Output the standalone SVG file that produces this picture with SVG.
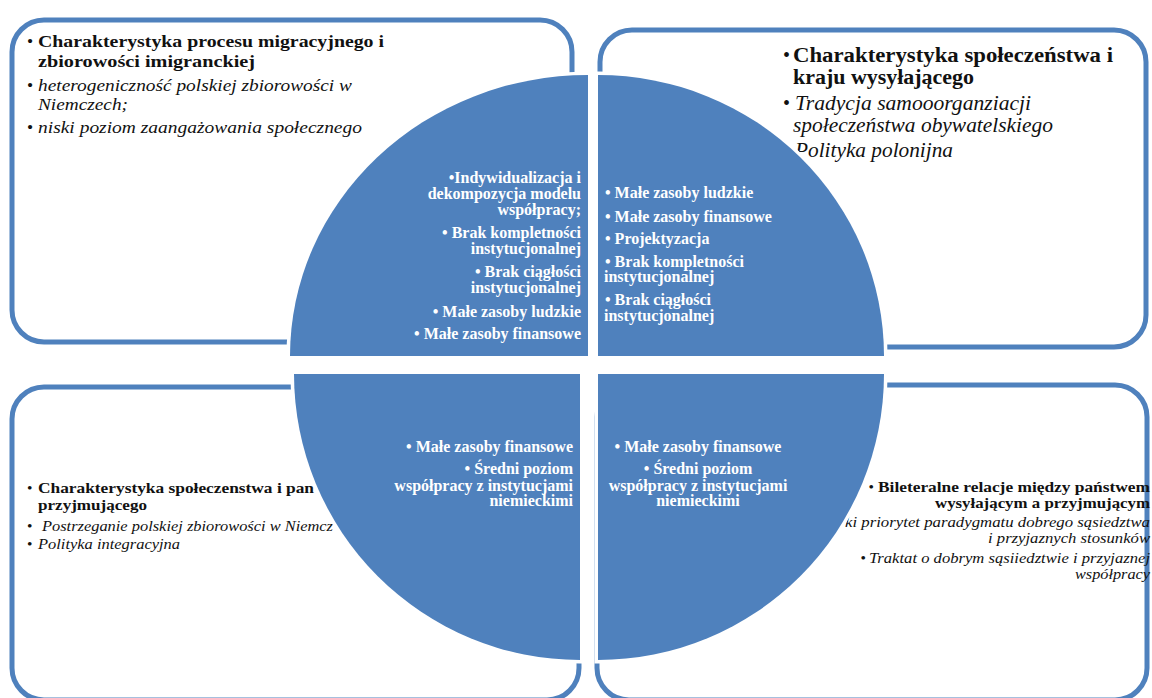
<svg xmlns="http://www.w3.org/2000/svg" xmlns:xlink="http://www.w3.org/1999/xlink" width="1152" height="698" viewBox="0 0 1152 698">
<style>
.box{fill:none;stroke:#4F81BD;stroke-width:5}
.halo{fill:#fff;stroke:#fff;stroke-width:7}
.pie{fill:#4F81BD}
.t{font-family:"Liberation Serif","Times New Roman",serif;fill:#111}
.b{font-weight:bold}
.i{font-style:italic}
.w{font-family:"Liberation Serif","Times New Roman",serif;font-weight:bold;font-size:16px;fill:#fff}
</style>
<defs>
<path id="pTL" d="M588,356 L588,75 A298,281 0 0 0 290,356 Z"/>
<path id="pTR" d="M598,356 L598,75 A286,281 0 0 1 884,356 Z"/>
<path id="pBL" d="M580,374 L294,374 A286,286 0 0 0 580,660 Z"/>
<path id="pBR" d="M598,374 L884,374 A286,286 0 0 1 598,660 Z"/>
</defs>
<rect width="1152" height="698" fill="#fff"/>

<g id="box-top-left">
<rect class="box" x="12" y="20" width="560" height="322" rx="32"/>
<g class="t" font-size="17.5">
<text x="27" y="47">•</text>
<text class="b" x="38" y="47" textLength="346" lengthAdjust="spacingAndGlyphs">Charakterystyka procesu migracyjnego i</text>
<text class="b" x="38" y="67" textLength="217" lengthAdjust="spacingAndGlyphs">zbiorowości imigranckiej</text>
<text x="27" y="91">•</text>
<text class="i" x="38" y="91" textLength="314" lengthAdjust="spacingAndGlyphs">heterogeniczność polskiej zbiorowości w</text>
<text class="i" x="38" y="110" textLength="90" lengthAdjust="spacingAndGlyphs">Niemczech;</text>
<text x="27" y="133">•</text>
<text class="i" x="38" y="133" textLength="324" lengthAdjust="spacingAndGlyphs">niski poziom zaangażowania społecznego</text>
</g>
</g>

<g id="box-top-right">
<rect class="box" x="600" y="30" width="546" height="317" rx="32"/>
<g class="t" font-size="20">
<text x="783" y="62">•</text>
<text class="b" x="793" y="62" textLength="320" lengthAdjust="spacingAndGlyphs">Charakterystyka społeczeństwa i</text>
<text class="b" x="793" y="84" textLength="181" lengthAdjust="spacingAndGlyphs">kraju wysyłającego</text>
<text x="783" y="110">•</text>
<text class="i" x="795" y="110" textLength="236" lengthAdjust="spacingAndGlyphs">Tradycja samooorganziacji</text>
<text class="i" x="793" y="132" textLength="260" lengthAdjust="spacingAndGlyphs">społeczeństwa obywatelskiego</text>
<text class="i" x="795" y="157" textLength="158" lengthAdjust="spacingAndGlyphs">Polityka polonijna</text>
</g>
</g>

<g id="box-bottom-left">
<rect class="box" x="12" y="387" width="567" height="313" rx="32"/>
<g class="t" font-size="15.5">
<text x="27" y="493">•</text>
<text class="b" x="38" y="493" textLength="276" lengthAdjust="spacingAndGlyphs">Charakterystyka społeczenstwa i pan</text>
<text class="b" x="38" y="510" textLength="109" lengthAdjust="spacingAndGlyphs">przyjmującego</text>
<text x="27" y="531">•</text>
<text class="i" x="42" y="531" textLength="291" lengthAdjust="spacingAndGlyphs">Postrzeganie polskiej zbiorowości w Niemcz</text>
<text x="27" y="549">•</text>
<text class="i" x="38" y="549" textLength="142" lengthAdjust="spacingAndGlyphs">Polityka integracyjna</text>
</g>
</g>

<g id="box-bottom-right">
<rect class="box" x="597" y="385" width="550" height="315" rx="32"/>
<g class="t" font-size="15.5" text-anchor="end">
<text x="874" y="492">•</text>
<text class="b" x="1150" y="492" textLength="272" lengthAdjust="spacingAndGlyphs">Bileteralne relacje między państwem</text>
<text class="b" x="1150" y="508" textLength="215" lengthAdjust="spacingAndGlyphs">wysyłającym a przyjmującym</text>
<text class="i" x="1150" y="527" textLength="305" lengthAdjust="spacingAndGlyphs">ki priorytet paradygmatu dobrego sąsiedztwa</text>
<text class="i" x="1150" y="543" textLength="162" lengthAdjust="spacingAndGlyphs">i przyjaznych stosunków</text>
<text x="866" y="563">•</text>
<text class="i" x="1150" y="563" textLength="281" lengthAdjust="spacingAndGlyphs">Traktat o dobrym sąsiiedztwie i przyjaznej</text>
<text class="i" x="1150" y="579" textLength="75" lengthAdjust="spacingAndGlyphs">współpracy</text>
</g>
</g>

<g id="pie-top-left">
<use xlink:href="#pTL" class="halo"/>
<use xlink:href="#pTL" class="pie"/>
<g class="w" text-anchor="end">
<text x="581" y="183">•Indywidualizacja i</text>
<text x="581" y="199">dekompozycja modelu</text>
<text x="581" y="215">współpracy;</text>
<text x="581" y="238">• Brak kompletności</text>
<text x="581" y="254">instytucjonalnej</text>
<text x="581" y="277">• Brak ciągłości</text>
<text x="581" y="293">instytucjonalnej</text>
<text x="581" y="317">• Małe zasoby ludzkie</text>
<text x="581" y="339">• Małe zasoby finansowe</text>
</g>
</g>

<g id="pie-top-right">
<use xlink:href="#pTR" class="halo"/>
<use xlink:href="#pTR" class="pie"/>
<g class="w">
<text x="605" y="198">• Małe zasoby ludzkie</text>
<text x="605" y="222">• Małe zasoby finansowe</text>
<text x="605" y="244">• Projektyzacja</text>
<text x="605" y="267">• Brak kompletności</text>
<text x="604" y="282">instytucjonalnej</text>
<text x="605" y="305">• Brak ciągłości</text>
<text x="604" y="321">instytucjonalnej</text>
</g>
</g>

<g id="pie-bottom-left">
<use xlink:href="#pBL" class="halo"/>
<use xlink:href="#pBL" class="pie"/>
<g class="w" text-anchor="end">
<text x="573" y="452">• Małe zasoby finansowe</text>
<text x="573" y="474">• Średni poziom</text>
<text x="573" y="491">współpracy z instytucjami</text>
<text x="573" y="506">niemieckimi</text>
</g>
</g>

<g id="pie-bottom-right">
<use xlink:href="#pBR" class="halo"/>
<use xlink:href="#pBR" class="pie"/>
<g class="w" text-anchor="middle">
<text x="698" y="452">• Małe zasoby finansowe</text>
<text x="698" y="474">• Średni poziom</text>
<text x="698" y="491">współpracy z instytucjami</text>
<text x="698" y="506">niemieckimi</text>
</g>
</g>

<g id="connectors"/>
</svg>
